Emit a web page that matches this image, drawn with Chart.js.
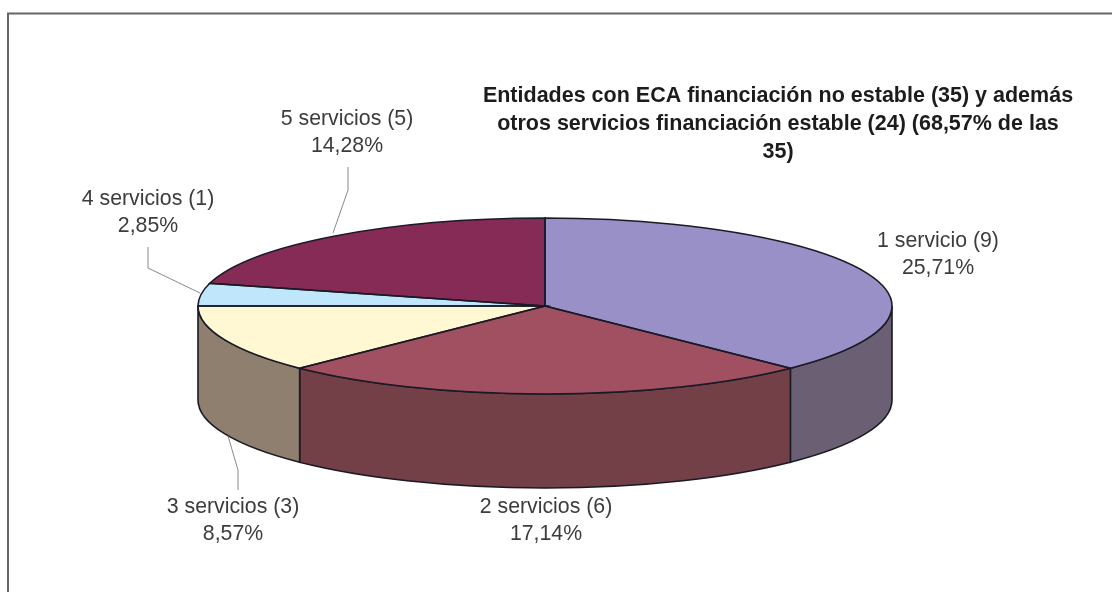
<!DOCTYPE html>
<html>
<head>
<meta charset="utf-8">
<title>Entidades con ECA</title>
<script src="https://cdn.jsdelivr.net/npm/chart.js@4/dist/chart.umd.min.js"></script>
<style>
html, body { margin: 0; padding: 0; background: #fff; }
canvas { display: block; }
</style>
</head>
<body>
<canvas id="pie" width="1112" height="592"></canvas>
<script>
var categories = ['1 servicio', '2 servicios', '3 servicios', '4 servicios', '5 servicios'];
var counts = [9, 6, 3, 1, 5];
var percents = ['25,71%', '17,14%', '8,57%', '2,85%', '14,28%'];
var titleLines = [
	'Entidades con ECA financiación no estable (35) y además',
	'otros servicios financiación estable (24) (68,57% de las',
	'35)'
];
var topColors = ['#9a90c8', '#a05060', '#fff8d2', '#bfe6fa', '#862a56'];
var sideColors = ['#6b6073', '#744048', '#8e7f6e', '#8e7f6e', '#862a56'];

// where the 3d pie sits on the page
var pieX = 545, pieY = 306, radiusX = 347, radiusY = 88, depth = 94;

// label centres and leader lines, same order as categories
var labelPos = [[938, 241], [546, 507], [233, 507], [148, 199], [347, 119]];
var leaders = [
	null,
	null,
	[[238, 490], [238, 470], [228, 436]],
	[[148, 247], [148, 268], [200, 293]],
	[[348, 167], [348, 190], [333, 233]]
];

function tilt(ctx, arc) {
	ctx.translate(pieX, pieY);
	ctx.scale(1, radiusY / radiusX);
	ctx.translate(-arc.x, -arc.y);
}

// side walls have to go under the slices
function drawWalls(ctx, arcs) {
	arcs.forEach(function(arc, i) {
		var from = Math.max(arc.startAngle, 0);
		var to = Math.min(arc.endAngle, Math.PI);
		if (from >= to) return;
		var x2 = pieX + radiusX * Math.cos(to), y2 = pieY + radiusY * Math.sin(to);
		ctx.beginPath();
		ctx.ellipse(pieX, pieY, radiusX, radiusY, 0, from, to);
		ctx.lineTo(x2, y2 + depth);
		ctx.ellipse(pieX, pieY + depth, radiusX, radiusY, 0, to, from, true);
		ctx.closePath();
		ctx.fillStyle = sideColors[i];
		ctx.fill();
		ctx.strokeStyle = '#1a1a26';
		ctx.lineWidth = 1.6;
		ctx.stroke();
	});
}

function drawOutlines(ctx, arcs) {
	arcs.forEach(function(arc) {
		ctx.beginPath();
		ctx.moveTo(pieX, pieY);
		ctx.ellipse(pieX, pieY, radiusX, radiusY, 0, arc.startAngle, arc.endAngle);
		ctx.closePath();
		ctx.strokeStyle = '#1a1a26';
		ctx.lineWidth = 1.6;
		ctx.stroke();
	});
}

function drawTexts(ctx) {
	ctx.textAlign = 'center';
	ctx.textBaseline = 'middle';
	ctx.fillStyle = '#3c3c3c';
	ctx.font = '21.3px "Liberation Sans", Arial, sans-serif';
	categories.forEach(function(name, i) {
		var pos = labelPos[i];
		ctx.fillText(name + ' (' + counts[i] + ')', pos[0], pos[1]);
		ctx.fillText(percents[i], pos[0], pos[1] + 27);
	});

	ctx.strokeStyle = '#8a8a8a';
	ctx.lineWidth = 1;
	leaders.forEach(function(pts) {
		if (!pts) return;
		ctx.beginPath();
		pts.forEach(function(p, j) {
			if (j == 0) ctx.moveTo(p[0], p[1]);
			else ctx.lineTo(p[0], p[1]);
		});
		ctx.stroke();
	});

	ctx.fillStyle = '#1c1c1c';
	ctx.font = 'bold 21.5px "Liberation Sans", Arial, sans-serif';
	titleLines.forEach(function(line, i) {
		ctx.fillText(line, 778, 96 + i * 28);
	});
}

var pie3d = {
	id: 'pie3d',
	beforeDraw: function(chart) {
		var ctx = chart.ctx;
		ctx.save();
		ctx.fillStyle = '#fff';
		ctx.fillRect(0, 0, chart.width, chart.height);
		// the frame is cut off in the original, only top and left remain
		ctx.strokeStyle = '#666';
		ctx.lineWidth = 2;
		ctx.beginPath();
		ctx.moveTo(8, chart.height);
		ctx.lineTo(8, 13.5);
		ctx.lineTo(chart.width, 13.5);
		ctx.stroke();
		ctx.restore();
	},
	beforeDatasetsDraw: function(chart) {
		var ctx = chart.ctx;
		var arcs = chart.getDatasetMeta(0).data;
		drawWalls(ctx, arcs);
		ctx.save();
		tilt(ctx, arcs[0]);
	},
	afterDatasetsDraw: function(chart) {
		var ctx = chart.ctx;
		var arcs = chart.getDatasetMeta(0).data;
		ctx.restore();
		drawOutlines(ctx, arcs);
		ctx.save();
		drawTexts(ctx);
		ctx.restore();
	}
};

var pieChart = new Chart(document.getElementById('pie'), {
	type: 'pie',
	data: {
		labels: categories,
		datasets: [{
			data: counts,
			backgroundColor: topColors,
			borderWidth: 0,
			clip: false
		}]
	},
	options: {
		responsive: false,
		animation: false,
		events: [],
		radius: radiusX,
		layout: { padding: 0 },
		plugins: {
			legend: { display: false },
			tooltip: { enabled: false },
			title: { display: false }
		}
	},
	plugins: [pie3d]
});
</script>
</body>
</html>
